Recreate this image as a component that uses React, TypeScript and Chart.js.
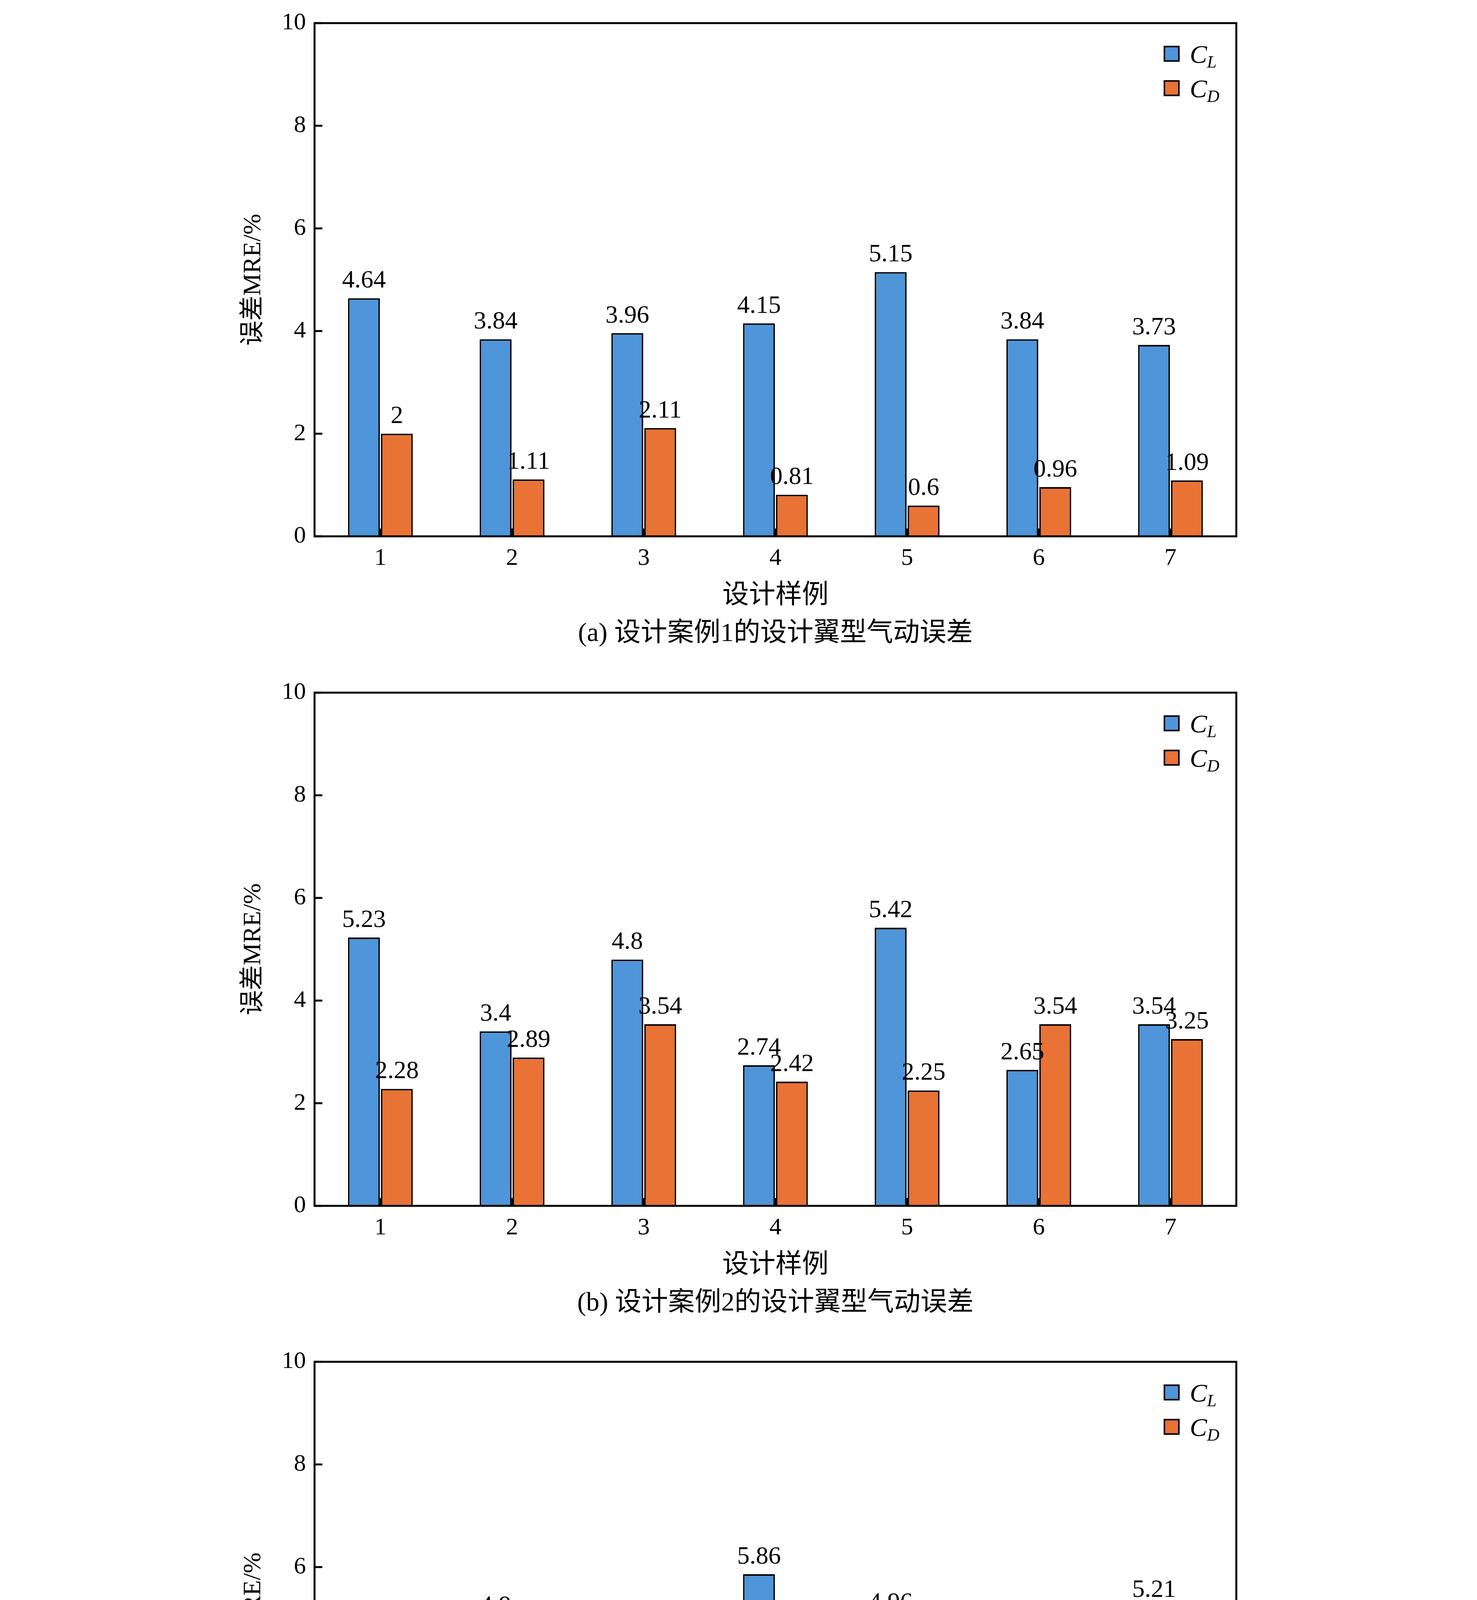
import React, { useEffect, useRef } from "react";
import { Chart, registerables } from "chart.js";
Chart.register(...registerables);

const categories = ["1", "2", "3", "4", "5", "6", "7"];
const clA = [4.64, 3.84, 3.96, 4.15, 5.15, 3.84, 3.73];
const cdA = [2, 1.11, 2.11, 0.81, 0.6, 0.96, 1.09];
const clB = [5.23, 3.4, 4.8, 2.74, 5.42, 2.65, 3.54];
const cdB = [2.28, 2.89, 3.54, 2.42, 2.25, 3.54, 3.25];
const clC = [1.24, 4.9, 0.71, 5.86, 4.96, 4.29, 5.21];
const cdC = [2.41, 3.46, 1.93, 3.03, 2.63, 3.03, 0.38];
const captions = [
  "(a) 设计案例1的设计翼型气动误差",
  "(b) 设计案例2的设计翼型气动误差",
  "(c) 设计案例3的生成翼型气动误差",
];
const yTitle = "误差MRE/%";
const xTitle = "设计样例";

const BLUE = "#4F95D9";
const ORANGE = "#E97235";
const FONT = "'Liberation Serif', 'Noto Sans CJK SC', serif";
const W = 3780;
const H = 1665;

function Panel({ cl, cd, caption, top }: { cl: number[]; cd: number[]; caption: string; top: number }) {
  const ref = useRef<HTMLCanvasElement>(null);
  useEffect(() => {
    const deco = {
      id: "deco",
      afterDatasetsDraw(chart: any) {
        const ctx = chart.ctx;
        const a = chart.chartArea;
        const xs = chart.scales.x;
        const ys = chart.scales.y;
        ctx.save();
        ctx.fillStyle = "#000";
        ctx.font = `64px ${FONT}`;
        ctx.textAlign = "center";
        ctx.textBaseline = "bottom";
        chart.data.datasets.forEach((ds: any, di: number) => {
          chart.getDatasetMeta(di).data.forEach((bar: any, i: number) => {
            ctx.fillText(String(ds.data[i]), bar.x, bar.y - 12);
          });
        });
        ctx.strokeStyle = "#000";
        ctx.lineWidth = 5;
        ctx.strokeRect(a.left, a.top, a.right - a.left, a.bottom - a.top);
        categories.forEach((_, i) => {
          const x = xs.getPixelForTick(i);
          ctx.beginPath();
          ctx.moveTo(x, a.bottom);
          ctx.lineTo(x, a.bottom - 20);
          ctx.stroke();
        });
        for (let v = 0; v <= 10; v += 2) {
          const y = ys.getPixelForValue(v);
          ctx.beginPath();
          ctx.moveTo(a.left, y);
          ctx.lineTo(a.left + 20, y);
          ctx.stroke();
        }
        ctx.save();
        ctx.translate(a.left - 156, (a.top + a.bottom) / 2);
        ctx.rotate(-Math.PI / 2);
        ctx.textBaseline = "middle";
        ctx.font = `64px ${FONT}`;
        ctx.fillText(yTitle, 0, 0);
        ctx.restore();
        const cx = (a.left + a.right) / 2;
        ctx.textBaseline = "middle";
        ctx.font = `68px ${FONT}`;
        ctx.fillText(xTitle, cx, a.bottom + 153);
        ctx.fillText(caption, cx, a.bottom + 250);
        const items = [
          { c: BLUE, sub: "L" },
          { c: ORANGE, sub: "D" },
        ];
        items.forEach((it, k) => {
          const sx = a.right - 184;
          const sy = a.top + 60 + k * 88;
          ctx.fillStyle = it.c;
          ctx.fillRect(sx, sy, 37, 37);
          ctx.lineWidth = 4;
          ctx.strokeRect(sx, sy, 37, 37);
          ctx.fillStyle = "#000";
          ctx.textAlign = "left";
          ctx.textBaseline = "alphabetic";
          ctx.font = `italic 66px ${FONT}`;
          ctx.fillText("C", sx + 65, sy + 42);
          ctx.font = `italic 44px ${FONT}`;
          ctx.fillText(it.sub, sx + 109, sy + 54);
        });
        ctx.restore();
      },
    };
    const chart = new Chart(ref.current!, {
      type: "bar",
      data: {
        labels: categories,
        datasets: [
          { label: "CL", data: cl, backgroundColor: BLUE, borderColor: "#000", borderWidth: 4, borderSkipped: "bottom" },
          { label: "CD", data: cd, backgroundColor: ORANGE, borderColor: "#000", borderWidth: 4, borderSkipped: "bottom" },
        ],
      },
      options: {
        responsive: false,
        animation: false,
        devicePixelRatio: 1,
        layout: { padding: { top: 4, right: 616, left: 0, bottom: 0 } },
        plugins: { legend: { display: false }, tooltip: { enabled: false } },
        datasets: { bar: { categoryPercentage: 0.5, barPercentage: 0.97 } },
        scales: {
          x: {
            grid: { display: false, drawTicks: false },
            border: { display: false },
            ticks: { color: "#000", font: { family: FONT, size: 62 }, padding: 20 },
            afterFit: (s: any) => { s.height = 292; },
          },
          y: {
            min: 0,
            max: 10,
            grid: { display: false, drawTicks: false },
            border: { display: false },
            ticks: { stepSize: 2, color: "#000", font: { family: FONT, size: 62 }, padding: 22 },
            afterFit: (s: any) => { s.width = 805; },
          },
        },
      },
      plugins: [deco],
    });
    return () => chart.destroy();
  }, []);
  return <canvas ref={ref} width={W} height={H} style={{ position: "absolute", left: 0, top, width: W, height: H }} />;
}

export default function App() {
  return (
    <div style={{ position: "absolute", left: 0, top: 0, width: W, height: 5092, background: "#fff" }}>
      <Panel cl={clA} cd={cdA} caption={captions[0]} top={0} />
      <Panel cl={clB} cd={cdB} caption={captions[1]} top={1714} />
      <Panel cl={clC} cd={cdC} caption={captions[2]} top={3427} />
    </div>
  );
}
